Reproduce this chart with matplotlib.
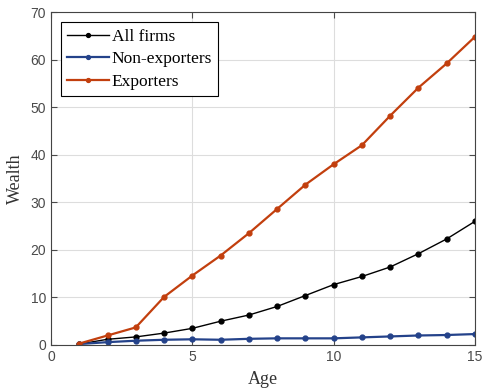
import numpy as np
import matplotlib
matplotlib.use("Agg")
import matplotlib.pyplot as plt

age = np.arange(1, 16)
all_firms = [0.2, 1.2, 1.7, 2.5, 3.5, 5.0, 6.3, 8.1, 10.4, 12.7, 14.4, 16.4, 19.2, 22.3, 26.0]
non_exp = [0.2, 0.6, 0.9, 1.1, 1.2, 1.1, 1.3, 1.4, 1.4, 1.4, 1.6, 1.8, 2.0, 2.1, 2.3]
exporters = [0.3, 2.0, 3.7, 10.1, 14.6, 18.8, 23.5, 28.6, 33.7, 38.0, 42.0, 48.2, 54.1, 59.2, 64.8]

serif = 'Liberation Serif'
plt.rcParams['font.family'] = 'Liberation Sans'

fig = plt.figure(figsize=(4.84, 3.88), dpi=100)
ax = fig.add_axes([51/484, 1-345/388, 424/484, 333/388])

ax.plot(age, all_firms, '-o', color='black', lw=1.0, ms=3.5, label='All firms')
ax.plot(age, non_exp, '-o', color='#24428a', lw=1.6, ms=3.5, label='Non-exporters')
ax.plot(age, exporters, '-o', color='#c23f0e', lw=1.6, ms=3.5, label='Exporters')

ax.set_xlim(0, 15)
ax.set_ylim(0, 70)
ax.set_xticks([0, 5, 10, 15])
ax.set_yticks(range(0, 71, 10))
ax.grid(True, color='#dddddd', lw=0.8)
ax.set_axisbelow(True)
ax.tick_params(direction='in', top=True, right=True, labelsize=10, colors='#4a4a4a', length=4)
for s in ax.spines.values():
    s.set_color('#444444')
    s.set_linewidth(0.8)

ax.set_xlabel('Age', family=serif, fontsize=13, color='#333333', labelpad=5)
ax.set_ylabel('Wealth', family=serif, fontsize=13, color='#333333', labelpad=5)

leg = ax.legend(loc='upper left', prop={'family': serif, 'size': 12.5},
                fancybox=False, edgecolor='black', framealpha=1, markerscale=0.8,
                handlelength=2.4, handletextpad=0.15, borderaxespad=0.6,
                labelspacing=0.38, borderpad=0.35)
leg.get_frame().set_linewidth(0.8)

fig.savefig('out.png', dpi=100)
